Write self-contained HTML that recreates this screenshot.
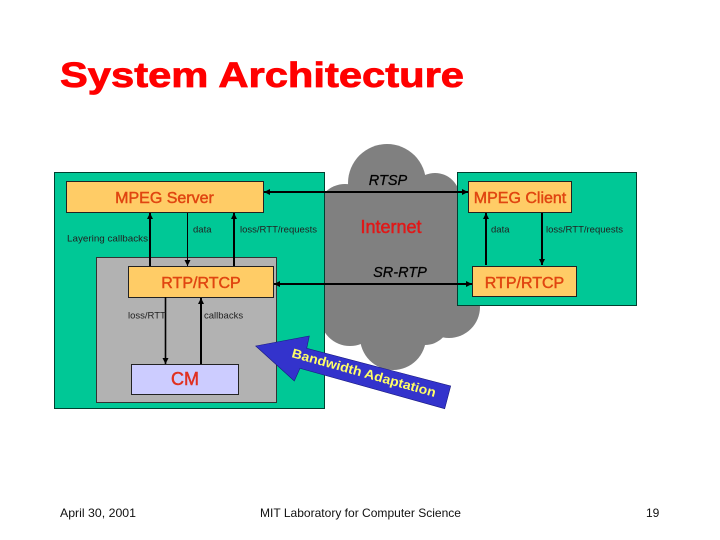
<!DOCTYPE html>
<html><head><meta charset="utf-8"><style>
html,body{margin:0;padding:0;background:#fff}
svg{display:block}
text{font-family:"Liberation Sans",Arial,sans-serif}
</style></head><body>
<svg width="720" height="540" viewBox="0 0 720 540" xmlns="http://www.w3.org/2000/svg">
<defs>
<marker id="a" markerWidth="7" markerHeight="7" refX="6" refY="3" orient="auto-start-reverse" markerUnits="userSpaceOnUse"><path d="M0 0L6 3L0 6z" fill="#000"/></marker>
</defs>
<rect width="720" height="540" fill="#fff"/>
<text x="60" y="87" font-size="35" font-weight="bold" fill="#ff0000" stroke="#ff0000" stroke-width=".8" textLength="404" lengthAdjust="spacingAndGlyphs">System Architecture</text>

<g fill="#808080">
<circle cx="387" cy="183" r="39"/>
<circle cx="435" cy="198" r="25"/>
<circle cx="345" cy="212" r="28"/>
<circle cx="449" cy="307" r="31"/>
<circle cx="393" cy="337" r="33"/>
<circle cx="425" cy="320" r="25"/>
<circle cx="350" cy="316" r="30"/>
<rect x="320" y="195" width="140" height="135"/>
</g>

<rect x="54.5" y="172.5" width="270" height="236" fill="#00c896" stroke="#004030"/>
<rect x="96.5" y="257.5" width="180" height="145" fill="#b2b2b2" stroke="#333"/>
<rect x="66.5" y="181.5" width="197" height="31" fill="#ffcc66" stroke="#222"/>
<rect x="128.5" y="266.5" width="145" height="31" fill="#ffcc66" stroke="#222"/>
<rect x="131.5" y="364.5" width="107" height="30" fill="#ccccff" stroke="#222"/>

<rect x="457.5" y="172.5" width="179" height="133" fill="#00c896" stroke="#004030"/>
<rect x="468.5" y="181.5" width="103" height="31" fill="#ffcc66" stroke="#222"/>
<rect x="472.5" y="266.5" width="104" height="30" fill="#ffcc66" stroke="#222"/>

<g stroke="#000" fill="none">
<line x1="264" y1="192" x2="468" y2="192" stroke-width="2" marker-start="url(#a)" marker-end="url(#a)"/>
<line x1="274" y1="284" x2="472" y2="284" stroke-width="2" marker-start="url(#a)" marker-end="url(#a)"/>
<line x1="150" y1="266" x2="150" y2="213" stroke-width="2" marker-end="url(#a)"/>
<line x1="187.500" y1="213" x2="187.500" y2="266" stroke-width="1" marker-end="url(#a)"/>
<line x1="234" y1="266" x2="234" y2="213" stroke-width="2" marker-end="url(#a)"/>
<line x1="165.500" y1="297" x2="165.500" y2="364" stroke-width="1.600" marker-end="url(#a)"/>
<line x1="201" y1="364" x2="201" y2="298" stroke-width="2" marker-end="url(#a)"/>
<line x1="486" y1="265" x2="486" y2="213" stroke-width="2" marker-end="url(#a)"/>
<line x1="542" y1="213" x2="542" y2="265" stroke-width="2" marker-end="url(#a)"/>
</g>

<g font-size="16" fill="#e04510" text-anchor="middle">
<text x="164.500" y="203" stroke="#e04510" stroke-width=".45">MPEG Server</text>
<text x="201" y="288" stroke="#e04510" stroke-width=".45">RTP/RTCP</text>
<text x="520" y="203" stroke="#e04510" stroke-width=".45">MPEG Client</text>
<text x="524.500" y="288" stroke="#e04510" stroke-width=".45">RTP/RTCP</text>
<text x="185" y="385" font-size="18" fill="#e03020" stroke="#e03020" stroke-width=".5">CM</text>
<text x="391" y="233" font-size="18" fill="#e01818" stroke="#e01818" stroke-width=".5">Internet</text>
</g>

<g font-size="14.500" font-style="italic" fill="#000" text-anchor="middle" stroke="#000" stroke-width=".25">
<text x="388" y="185">RTSP</text>
<text x="400" y="277">SR-RTP</text>
</g>

<g font-size="9.500" fill="#222">
<text x="67" y="241.500" textLength="81" lengthAdjust="spacingAndGlyphs">Layering callbacks</text>
<text x="193" y="232.500">data</text>
<text x="240" y="232.500" textLength="77" lengthAdjust="spacingAndGlyphs">loss/RTT/requests</text>
<text x="128" y="318.500">loss/RTT</text>
<text x="204" y="318.500">callbacks</text>
<text x="491" y="232.500">data</text>
<text x="546" y="232.500" textLength="77" lengthAdjust="spacingAndGlyphs">loss/RTT/requests</text>
</g>

<polygon points="255.700,346 309.300,336 306.700,348.300 450.700,386 444.700,408.700 300,368.300 294.300,381" fill="#3333cc" stroke="#1a1a80" stroke-width=".6"/>
<text transform="translate(291,357) rotate(15.600)" font-size="13" font-weight="bold" fill="#ffff66" textLength="149" lengthAdjust="spacingAndGlyphs">Bandwidth Adaptation</text>

<g font-size="12" fill="#111">
<text x="60" y="517" textLength="76" lengthAdjust="spacingAndGlyphs">April 30, 2001</text>
<text x="260" y="517" textLength="201" lengthAdjust="spacingAndGlyphs">MIT Laboratory for Computer Science</text>
<text x="646" y="517">19</text>
</g>
</svg>
</body></html>
